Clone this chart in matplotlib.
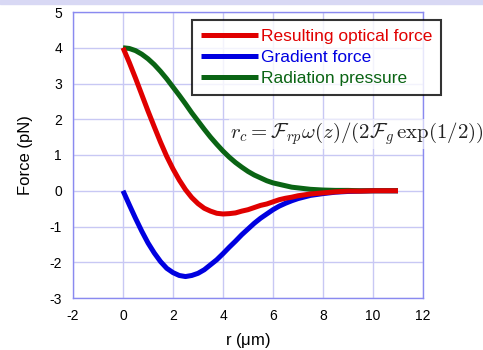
import numpy as np
import matplotlib.pyplot as plt
from matplotlib.patches import Rectangle

# values (r in um, forces in pN)
r = [0, 0.25, 0.5, 0.75, 1, 1.25, 1.5, 1.75, 2, 2.25, 2.5, 2.75, 3, 3.25, 3.5, 3.75, 4, 4.25,
     4.5, 4.75, 5, 5.25, 5.5, 5.75, 6, 6.25, 6.5, 6.75, 7, 7.5, 8, 8.5, 9, 9.5, 10, 10.5, 11]
radiation = [4.0, 3.98, 3.92, 3.82, 3.69, 3.53, 3.34, 3.13, 2.90, 2.67, 2.43, 2.18, 1.95, 1.72,
             1.50, 1.30, 1.11, 0.94, 0.79, 0.66, 0.54, 0.44, 0.36, 0.28, 0.22, 0.18, 0.14, 0.10,
             0.08, 0.04, 0.02, 0.01, 0.01, 0.0, 0.0, 0.0, 0.0]
gradient = [0.0, -0.39, -0.77, -1.13, -1.46, -1.74, -1.98, -2.17, -2.29, -2.37, -2.40, -2.37,
            -2.31, -2.21, -2.07, -1.93, -1.76, -1.58, -1.41, -1.23, -1.07, -0.91, -0.77, -0.65,
            -0.53, -0.43, -0.35, -0.28, -0.22, -0.13, -0.08, -0.04, -0.02, -0.01, 0.0, 0.0, 0.0]
resulting = [4.0, 3.59, 3.15, 2.69, 2.23, 1.79, 1.36, 0.96, 0.61, 0.30, 0.03, -0.19, -0.36, -0.49,
             -0.57, -0.63, -0.65, -0.64, -0.62, -0.57, -0.53, -0.47, -0.41, -0.37, -0.31, -0.25,
             -0.21, -0.18, -0.14, -0.09, -0.06, -0.03, -0.01, -0.01, 0.0, 0.0, 0.0]
labels = ['Resulting optical force', 'Gradient force', 'Radiation pressure']
colors = ['#e00000', '#0000e0', '#0a6414']
xticks = [-2, 0, 2, 4, 6, 8, 10, 12]
yticks = [-3, -2, -1, 0, 1, 2, 3, 4, 5]

plt.rcParams['font.family'] = ['Liberation Sans', 'DejaVu Sans']
plt.rcParams['mathtext.fontset'] = 'cm'
plt.rcParams['axes.unicode_minus'] = False

fig = plt.figure(figsize=(4.83, 3.5), dpi=100)
fig.patches.append(Rectangle((0, 0.99), 1, 0.01, transform=fig.transFigure,
                             color='#d8d8f4', zorder=0))
ax = fig.add_axes([73 / 483, 52 / 350, 350 / 483, 286 / 350])

grid_col = '#c8c8f4'
spine_col = '#8a8af0'
ax.set_xlim(-2, 12)
ax.set_ylim(-3, 5)
ax.set_xticks(xticks)
ax.set_yticks(yticks)
ax.grid(True, color=grid_col, linewidth=1)
for s in ax.spines.values():
    s.set_color(spine_col)
    s.set_linewidth(1)
ax.tick_params(length=0, labelsize=10, pad=8)

handles = []
for y, c, lab in zip([resulting, gradient, radiation], colors, labels):
    h, = ax.plot(r, y, color=c, linewidth=3.6, solid_capstyle='butt',
                 solid_joinstyle='round', label=lab)
    handles.append(h)
# radiation drawn under resulting at start
handles[2].set_zorder(2)
handles[0].set_zorder(3)

leg = ax.legend(handles=handles, loc='upper left', bbox_to_anchor=(192 / 483, 1 - 20 / 350),
                bbox_transform=fig.transFigure, fontsize=12.5, frameon=True, fancybox=False,
                handlelength=3.3, handletextpad=0.15, borderpad=0.5, labelspacing=0.35,
                borderaxespad=0)
leg.get_frame().set_edgecolor('black')
leg.get_frame().set_linewidth(1.5)
for t, c in zip(leg.get_texts(), colors):
    t.set_color(c)

fig.text(230 / 483, 1 - 134 / 350,
         r'$r_c = \mathcal{F}_{rp}\omega(z)/(2\mathcal{F}_g\,\exp(1/2))$',
         fontsize=15, va='center', ha='left', color='#222222',
         bbox=dict(facecolor='white', edgecolor='none', alpha=0.6, pad=1))

ax.set_xlabel(r'r ($\mathregular{\mu}$m)', fontsize=12, labelpad=6)
ax.set_ylabel('Force (pN)', fontsize=12, labelpad=12)

fig.savefig('out.png', dpi=100)
